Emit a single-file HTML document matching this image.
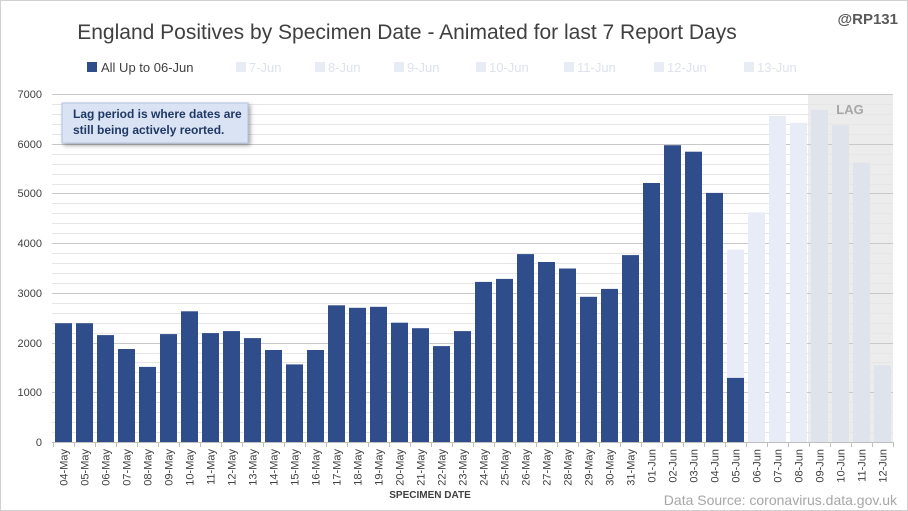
<!DOCTYPE html>
<html><head><meta charset="utf-8"><style>
body{margin:0;background:#fff;}
svg{display:block;font-family:"Liberation Sans",sans-serif;}
</style></head><body>
<svg width="908" height="511" viewBox="0 0 908 511" xmlns="http://www.w3.org/2000/svg">
<rect x="0.5" y="0.5" width="907" height="510" fill="#fff" stroke="#d0d0d0"/>
<text x="407" y="39" text-anchor="middle" font-size="21" fill="#404040">England Positives by Specimen Date - Animated for last 7 Report Days</text>
<text x="898" y="24" text-anchor="end" font-size="15" font-weight="bold" fill="#595959">@RP131</text>
<g font-size="13">
<rect x="87" y="62" width="10" height="10" fill="#2e4d8a"/><text x="101" y="72" fill="#404040">All Up to 06-Jun</text>
<g fill="#e8ecf5"><rect x="236" y="62" width="10" height="10"/><rect x="315" y="62" width="10" height="10"/><rect x="394" y="62" width="10" height="10"/><rect x="476" y="62" width="10" height="10"/><rect x="564" y="62" width="10" height="10"/><rect x="654" y="62" width="10" height="10"/><rect x="744" y="62" width="10" height="10"/></g>
<g fill="#dde2ec"><text x="249" y="72">7-Jun</text><text x="328" y="72">8-Jun</text><text x="407" y="72">9-Jun</text><text x="489" y="72">10-Jun</text><text x="577" y="72">11-Jun</text><text x="667" y="72">12-Jun</text><text x="757" y="72">13-Jun</text></g>
</g>
<rect x="808" y="94" width="85" height="348" fill="#ececec"/>
<path stroke="#e6e6e6" fill="none" d="M52 432.5H893M52 422.5H893M52 412.5H893M52 402.5H893M52 382.5H893M52 372.5H893M52 362.5H893M52 353.5H893M52 333.5H893M52 323.5H893M52 313.5H893M52 303.5H893M52 283.5H893M52 273.5H893M52 263.5H893M52 253.5H893M52 233.5H893M52 223.5H893M52 213.5H893M52 203.5H893M52 184.5H893M52 174.5H893M52 164.5H893M52 154.5H893M52 134.5H893M52 124.5H893M52 114.5H893M52 104.5H893"/>
<path stroke="#c8c8c8" fill="none" d="M52 392.5H893M52 343.5H893M52 293.5H893M52 243.5H893M52 193.5H893M52 144.5H893M52 94.5H893"/>
<g fill="#e8ecf6">
<rect x="727" y="249.6" width="17" height="192.4"/>
<rect x="748" y="212.3" width="17" height="229.7"/>
<rect x="769" y="115.9" width="17" height="326.1"/>
<rect x="790" y="122.8" width="17" height="319.2"/>
</g>
<g fill="#dfe3ec">
<rect x="811" y="109.9" width="17" height="332.1"/>
<rect x="832" y="125.3" width="17" height="316.7"/>
<rect x="853" y="162.6" width="17" height="279.4"/>
<rect x="874" y="365.4" width="17" height="76.6"/>
</g>
<g fill="#2e4d8a">
<rect x="55" y="323.2" width="17" height="118.8"/>
<rect x="76" y="323.2" width="17" height="118.8"/>
<rect x="97" y="335.1" width="17" height="106.9"/>
<rect x="118" y="349" width="17" height="93"/>
<rect x="139" y="366.9" width="17" height="75.1"/>
<rect x="160" y="334.1" width="17" height="107.9"/>
<rect x="181" y="311.3" width="17" height="130.7"/>
<rect x="202" y="333.1" width="17" height="108.9"/>
<rect x="223" y="331.1" width="17" height="110.9"/>
<rect x="244" y="338.1" width="17" height="103.9"/>
<rect x="265" y="350" width="17" height="92"/>
<rect x="286" y="364.4" width="17" height="77.6"/>
<rect x="307" y="350" width="17" height="92"/>
<rect x="328" y="305.3" width="17" height="136.7"/>
<rect x="349" y="307.8" width="17" height="134.2"/>
<rect x="370" y="306.8" width="17" height="135.2"/>
<rect x="391" y="322.7" width="17" height="119.3"/>
<rect x="412" y="328.2" width="17" height="113.8"/>
<rect x="433" y="346.1" width="17" height="95.9"/>
<rect x="454" y="331.1" width="17" height="110.9"/>
<rect x="475" y="281.9" width="17" height="160.1"/>
<rect x="496" y="278.9" width="17" height="163.1"/>
<rect x="517" y="254.1" width="17" height="187.9"/>
<rect x="538" y="262" width="17" height="180"/>
<rect x="559" y="268.5" width="17" height="173.5"/>
<rect x="580" y="296.8" width="17" height="145.2"/>
<rect x="601" y="288.9" width="17" height="153.1"/>
<rect x="622" y="255.1" width="17" height="186.9"/>
<rect x="643" y="183" width="17" height="259"/>
<rect x="664" y="145.2" width="17" height="296.8"/>
<rect x="685" y="151.7" width="17" height="290.3"/>
<rect x="706" y="192.9" width="17" height="249.1"/>
<rect x="727" y="377.9" width="17" height="64.1"/>
</g>
<text x="850" y="114" text-anchor="middle" font-size="13" font-weight="bold" fill="#a6a6a6">LAG</text>
<line x1="52" y1="442.5" x2="893" y2="442.5" stroke="#bfbfbf"/>
<path stroke="#bfbfbf" d="M53.5 442V447M74.5 442V447M95.5 442V447M116.5 442V447M137.5 442V447M158.5 442V447M179.5 442V447M200.5 442V447M221.5 442V447M242.5 442V447M263.5 442V447M284.5 442V447M305.5 442V447M326.5 442V447M347.5 442V447M368.5 442V447M389.5 442V447M410.5 442V447M431.5 442V447M452.5 442V447M473.5 442V447M494.5 442V447M515.5 442V447M536.5 442V447M557.5 442V447M578.5 442V447M599.5 442V447M620.5 442V447M641.5 442V447M662.5 442V447M683.5 442V447M704.5 442V447M725.5 442V447M746.5 442V447M767.5 442V447M788.5 442V447M809.5 442V447M830.5 442V447M851.5 442V447M872.5 442V447M893.5 442V447"/>
<g font-size="11" fill="#404040" text-anchor="end">
<text x="42" y="446">0</text><text x="42" y="396">1000</text><text x="42" y="347">2000</text><text x="42" y="297">3000</text><text x="42" y="247">4000</text><text x="42" y="197">5000</text><text x="42" y="148">6000</text><text x="42" y="98">7000</text>
</g>
<g font-size="11" fill="#404040" text-anchor="end">
<text transform="translate(67.5,449) rotate(-90)">04-May</text>
<text transform="translate(88.5,449) rotate(-90)">05-May</text>
<text transform="translate(109.5,449) rotate(-90)">06-May</text>
<text transform="translate(130.5,449) rotate(-90)">07-May</text>
<text transform="translate(151.5,449) rotate(-90)">08-May</text>
<text transform="translate(172.5,449) rotate(-90)">09-May</text>
<text transform="translate(193.5,449) rotate(-90)">10-May</text>
<text transform="translate(214.5,449) rotate(-90)">11-May</text>
<text transform="translate(235.5,449) rotate(-90)">12-May</text>
<text transform="translate(256.5,449) rotate(-90)">13-May</text>
<text transform="translate(277.5,449) rotate(-90)">14-May</text>
<text transform="translate(298.5,449) rotate(-90)">15-May</text>
<text transform="translate(319.5,449) rotate(-90)">16-May</text>
<text transform="translate(340.5,449) rotate(-90)">17-May</text>
<text transform="translate(361.5,449) rotate(-90)">18-May</text>
<text transform="translate(382.5,449) rotate(-90)">19-May</text>
<text transform="translate(403.5,449) rotate(-90)">20-May</text>
<text transform="translate(424.5,449) rotate(-90)">21-May</text>
<text transform="translate(445.5,449) rotate(-90)">22-May</text>
<text transform="translate(466.5,449) rotate(-90)">23-May</text>
<text transform="translate(487.5,449) rotate(-90)">24-May</text>
<text transform="translate(508.5,449) rotate(-90)">25-May</text>
<text transform="translate(529.5,449) rotate(-90)">26-May</text>
<text transform="translate(550.5,449) rotate(-90)">27-May</text>
<text transform="translate(571.5,449) rotate(-90)">28-May</text>
<text transform="translate(592.5,449) rotate(-90)">29-May</text>
<text transform="translate(613.5,449) rotate(-90)">30-May</text>
<text transform="translate(634.5,449) rotate(-90)">31-May</text>
<text transform="translate(655.5,449) rotate(-90)">01-Jun</text>
<text transform="translate(676.5,449) rotate(-90)">02-Jun</text>
<text transform="translate(697.5,449) rotate(-90)">03-Jun</text>
<text transform="translate(718.5,449) rotate(-90)">04-Jun</text>
<text transform="translate(739.5,449) rotate(-90)">05-Jun</text>
<text transform="translate(760.5,449) rotate(-90)">06-Jun</text>
<text transform="translate(781.5,449) rotate(-90)">07-Jun</text>
<text transform="translate(802.5,449) rotate(-90)">08-Jun</text>
<text transform="translate(823.5,449) rotate(-90)">09-Jun</text>
<text transform="translate(844.5,449) rotate(-90)">10-Jun</text>
<text transform="translate(865.5,449) rotate(-90)">11-Jun</text>
<text transform="translate(886.5,449) rotate(-90)">12-Jun</text>
</g>
<text x="430" y="498" text-anchor="middle" font-size="10" font-weight="bold" fill="#404040">SPECIMEN DATE</text>
<text x="897" y="505" text-anchor="end" font-size="14" fill="#a6a6a6">Data Source: coronavirus.data.gov.uk</text>
<rect x="62" y="103" width="186" height="40" fill="#dae3f3" stroke="#b4c3dd" style="filter:drop-shadow(2px 2px 2px rgba(0,0,0,0.35))"/>
<text x="73" y="118" font-size="12" font-weight="bold" fill="#1f3864">Lag period is where dates are</text>
<text x="73" y="134" font-size="12" font-weight="bold" fill="#1f3864">still being actively  reorted.</text>
</svg>
</body></html>
